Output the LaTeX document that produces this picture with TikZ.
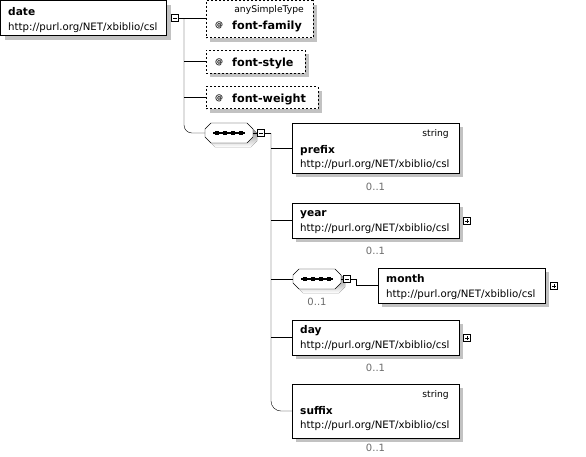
\documentclass[tikz,border=0pt]{standalone}
\usepackage{fontspec}
\setmainfont{DejaVu Sans}
\usetikzlibrary{calc}

\definecolor{shade}{gray}{0.76}
\definecolor{occ}{gray}{0.42}

\tikzset{
  x=1pt, y=-1pt,
  line width=1pt,
  shadowed/.style={preaction={fill=shade, transform canvas={shift={(4pt,-4pt)}}}},
  elem/.style={draw, fill=white, shadowed, inner sep=0pt, outer sep=0pt, anchor=north west},
  attr/.style={elem, dash pattern=on 2pt off 2pt},
  ename/.style={font=\fontsize{10.6}{12}\selectfont\bfseries, inner sep=0pt, anchor=base west},
  aname/.style={font=\fontsize{11.2}{13}\selectfont\bfseries, inner sep=0pt, anchor=base west},
  atsign/.style={font=\fontsize{8}{9}\selectfont\bfseries, inner sep=0pt, anchor=base west},
  nsurl/.style={font=\fontsize{10.2}{12}\selectfont, inner sep=0pt, anchor=base west},
  typename/.style={font=\fontsize{9.2}{11}\selectfont, inner sep=0pt, anchor=base east},
  occurs/.style={font=\fontsize{10}{12}\selectfont, text=occ, inner sep=0pt, anchor=base},
  togglebox/.style={draw, fill=white, minimum size=7pt, inner sep=0pt, outer sep=0pt},
  minusbox/.style={togglebox, path picture={
      \draw[line width=1pt] ([xshift=1.5pt]path picture bounding box.west)
        -- ([xshift=-1.5pt]path picture bounding box.east);}},
  plusbox/.style={togglebox, path picture={
      \draw[line width=1pt] ([xshift=1.5pt]path picture bounding box.west)
        -- ([xshift=-1.5pt]path picture bounding box.east);
      \draw[line width=1pt] ([yshift=-1.5pt]path picture bounding box.north)
        -- ([yshift=1.5pt]path picture bounding box.south);}},
  % sequence compositor: chamfered box with a dotted bar
  seqcomp/.pic={
    \fill[shade, shift={(4,4)}] (-18,-10) -- (18,-10) -- (24,-4) -- (24,4)
      -- (18,10) -- (-18,10) -- (-24,4) -- (-24,-4) -- cycle;
    \draw[fill=white] (-18,-10) -- (18,-10) -- (24,-4) -- (24,4)
      -- (18,10) -- (-18,10) -- (-24,4) -- (-24,-4) -- cycle;
    \draw[line width=1.6pt] (-16,0) -- (16,0);
    \foreach \k in {-12,-4,4,12} \fill (\k-2,-2) rectangle (\k+2,2);
    \node[inner sep=0pt, outer sep=0pt, minimum width=48pt, minimum height=20pt] (-box) at (0,0) {};
  }
}

\begin{document}
\begin{tikzpicture}
\useasboundingbox (0,0) rectangle (586,456);

% root element
\node[elem, minimum width=166pt, minimum height=35pt] (date) at (0.5,0.5) {};
\node[ename] (date-name) at (8,15) {date};
\node[nsurl] (date-url) at (8,30) {http://purl.org/NET/xbiblio/csl};
\node[minusbox] (date-tog) at (175,18) {};

% attributes
\node[attr, minimum width=107pt, minimum height=37pt] (ffam) at (206,0.5) {};
\node[typename] (ffam-type) at (304,12) {anySimpleType};
\node[atsign] (ffam-at) at (215,27) {@};
\node[aname] (ffam-name) at (232,29) {font-family};

\node[attr, minimum width=99pt, minimum height=23pt] (fsty) at (206,50) {};
\node[atsign] (fsty-at) at (215,64) {@};
\node[aname] (fsty-name) at (232,66) {font-style};

\node[attr, minimum width=112pt, minimum height=22pt] (fwgt) at (206,86.5) {};
\node[atsign] (fwgt-at) at (215,100) {@};
\node[aname] (fwgt-name) at (232,102) {font-weight};

% outer sequence
\pic (seqA) at (229,133) {seqcomp};
\node[minusbox] (seqA-tog) at (261,133) {};

% child elements
\node[elem, minimum width=167pt, minimum height=50pt] (prefix) at (292,123) {};
\node[typename] (prefix-type) at (449,136) {string};
\node[ename] (prefix-name) at (300,153) {prefix};
\node[nsurl] (prefix-url) at (300,167) {http://purl.org/NET/xbiblio/csl};
\node[occurs] (prefix-occ) at (375.5,190) {0..1};

\node[elem, minimum width=167pt, minimum height=35pt] (year) at (292,203) {};
\node[ename] (year-name) at (300,216) {year};
\node[nsurl] (year-url) at (300,231) {http://purl.org/NET/xbiblio/csl};
\node[occurs] (year-occ) at (375.5,254) {0..1};
\node[plusbox] (year-tog) at (467,221) {};

% inner sequence holding month
\pic (seqB) at (317,279) {seqcomp};
\node[occurs] (seqB-occ) at (317,305) {0..1};
\node[minusbox] (seqB-tog) at (347,279) {};

\node[elem, minimum width=167pt, minimum height=35pt] (month) at (378,268) {};
\node[ename] (month-name) at (386,282) {month};
\node[nsurl] (month-url) at (386,297) {http://purl.org/NET/xbiblio/csl};
\node[plusbox] (month-tog) at (554,286) {};

\node[elem, minimum width=167pt, minimum height=35pt] (day) at (292,320) {};
\node[ename] (day-name) at (300,333) {day};
\node[nsurl] (day-url) at (300,348) {http://purl.org/NET/xbiblio/csl};
\node[occurs] (day-occ) at (375.5,371) {0..1};
\node[plusbox] (day-tog) at (467,338) {};

\node[elem, minimum width=167pt, minimum height=54pt] (suffix) at (292,384) {};
\node[typename] (suffix-type) at (449,397) {string};
\node[ename] (suffix-name) at (300,414) {suffix};
\node[nsurl] (suffix-url) at (300,428) {http://purl.org/NET/xbiblio/csl};
\node[occurs] (suffix-occ) at (375.5,451) {0..1};

% connectors
\coordinate (t1) at (184,18);
\coordinate (t2) at (271,133);
\coordinate (mB) at (356,279);

\draw (date-tog.east) -- (date-tog.east -| ffam.west);
\draw (t1 |- fsty.west) -- (fsty.west);
\draw (t1 |- fwgt.west) -- (fwgt.west);
\draw[rounded corners=8pt] (t1) |- (seqA-box.west);
\draw (seqA-box.east) -- (seqA-tog.west);
\draw (seqA-tog.east) -- (t2);
\draw[rounded corners=10pt] (t2) |- (suffix.west);
\draw (t2 |- prefix.west) -- (prefix.west);
\draw (t2 |- year.west) -- (year.west);
\draw (t2 |- seqB-box.west) -- (seqB-box.west);
\draw (t2 |- day.west) -- (day.west);
\draw (seqB-box.east) -- (seqB-tog.west);
\draw (seqB-tog.east) -- (mB) |- (month.west);
\end{tikzpicture}
\end{document}
